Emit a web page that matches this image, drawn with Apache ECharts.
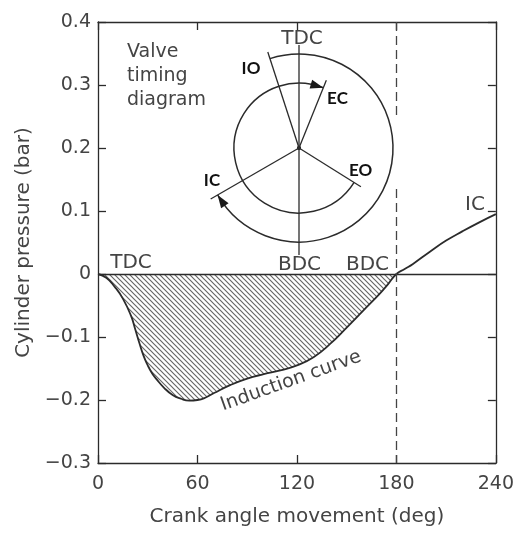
<!DOCTYPE html>
<html>
<head>
<meta charset="utf-8">
<script src="https://cdn.jsdelivr.net/npm/echarts@6/dist/echarts.min.js"></script>
<style>
  html, body { margin: 0; padding: 0; background: #fff; }
  #chart { width: 517px; height: 533px; }
</style>
</head>
<body>
<div id="chart"></div>
<script>
// Induction curve: cylinder pressure (bar) against crank angle movement (deg)
const crankAngle = [0, 5, 10, 15, 20, 22.5, 25, 27.5, 30, 32.5, 35, 40, 45, 50, 55, 60, 65, 70,
  80, 90, 100, 110, 120, 130, 140, 150, 160, 170, 175, 180,
  185, 190, 200, 210, 220, 230, 240];
const cylinderPressure = [0, -0.006, -0.020, -0.039, -0.067, -0.088, -0.110, -0.130, -0.145, -0.157, -0.166, -0.181, -0.192, -0.198, -0.201, -0.200, -0.196, -0.189,
  -0.176, -0.166, -0.159, -0.153, -0.145, -0.132, -0.111, -0.085, -0.058, -0.031, -0.016, 0,
  0.008, 0.016, 0.035, 0.053, 0.068, 0.082, 0.095];

// Axis ranges and tick steps
const xRange = [0, 240], xStep = 60;
const yRange = [-0.3, 0.4], yStep = 0.1;

// Induction stroke ends at BDC (hatched region), dashed marker at BDC
const inductionEnd = 180;
const bdcMarkerBreak = [0.245, 0.135];   // the dashed marker is interrupted between these pressures

// Valve timing diagram: event names and crank angles (deg, clockwise from TDC)
const valveEvents = ['IO', 'EC', 'EO', 'IC'];
const valveAngles = [342, 22, 122, 240];
const deadCentreAngles = [0, 180];        // TDC, BDC

const TEXT = '#444';
const INK = '#2b2b2b';
const FONT = 'DejaVu Sans';

const curve = crankAngle.map((x, i) => [x, cylinderPressure[i]]);
const inductionPart = curve.filter(p => p[0] <= inductionEnd);

function makeHatch(step, color, width) {
  const c = document.createElement('canvas');
  c.width = step; c.height = step;
  const g = c.getContext('2d');
  g.strokeStyle = color; g.lineWidth = width;
  g.beginPath();
  g.moveTo(-1, -1); g.lineTo(step + 1, step + 1);
  g.moveTo(-1, step - 1); g.lineTo(1, step + 1);
  g.moveTo(step - 1, -1); g.lineTo(step + 1, 1);
  g.stroke();
  return c;
}

const fmtY = v => {
  if (Math.abs(v) < 1e-9) return '0';
  return (v < 0 ? '\u2212' : '') + Math.abs(v).toFixed(1);
};

const frameLine = { onZero: false, lineStyle: { color: INK, width: 1.3 } };
const innerTick = { inside: true, length: 8, lineStyle: { color: INK, width: 1.3 } };

// Inset ring radii / spoke lengths (polar radius units = px, polar radius 100)
const idx = n => valveAngles[valveEvents.indexOf(n)];
const rings = [
  [94, idx('IO'), idx('IC')],   // intake valve open period
  [65, idx('EO'), idx('EC')]    // exhaust valve open period
];
const spokes = [
  [101, idx('IO')], [73, idx('EC')], [73, idx('EO')], [102, idx('IC')],
  [103, deadCentreAngles[0]], [107, deadCentreAngles[1]]
];

const chart = echarts.init(document.getElementById('chart'), null, { renderer: 'canvas' });

const txt = (text, x, y, extra) => ({
  type: 'text', x, y, z: 100,
  style: Object.assign({
    text, fill: TEXT, fontFamily: FONT, fontSize: 20,
    align: 'center', verticalAlign: 'middle',
    textAlign: 'center', textVerticalAlign: 'middle'
  }, extra || {})
});
const bold = (text, x, y) => txt(text, x, y, { fontFamily: 'Lato', fontWeight: 'bold', fontSize: 17, fill: '#111' });

const smoothing = { smooth: 0.5 };

chart.setOption({
  animation: false,
  backgroundColor: '#fff',
  grid: { left: 98, right: 20, top: 22, bottom: 70 },
  polar: { center: [299, 148], radius: 100 },
  angleAxis: { type: 'value', min: 0, max: 360, startAngle: 90, clockwise: true, show: false },
  radiusAxis: { type: 'value', min: 0, max: 100, show: false },
  xAxis: [
    {
      type: 'value', min: xRange[0], max: xRange[1], interval: xStep, position: 'bottom',
      axisLine: frameLine, axisTick: innerTick, splitLine: { show: false },
      axisLabel: { color: TEXT, fontSize: 19, fontFamily: FONT, margin: 12 },
      name: 'Crank angle movement (deg)', nameLocation: 'middle', nameGap: 44,
      nameTextStyle: { color: TEXT, fontSize: 20, fontFamily: FONT }
    },
    {
      type: 'value', min: xRange[0], max: xRange[1], interval: xStep, position: 'top',
      axisLine: frameLine, axisTick: innerTick, splitLine: { show: false },
      axisLabel: { show: false }
    }
  ],
  yAxis: [
    {
      type: 'value', min: yRange[0], max: yRange[1], interval: yStep, position: 'left',
      axisLine: frameLine, axisTick: innerTick, splitLine: { show: false },
      axisLabel: { color: TEXT, fontSize: 19, fontFamily: FONT, margin: 7, formatter: fmtY },
      name: 'Cylinder pressure (bar)', nameLocation: 'middle', nameGap: 62, nameRotate: 90,
      nameTextStyle: { color: TEXT, fontSize: 20, fontFamily: FONT }
    },
    {
      type: 'value', min: yRange[0], max: yRange[1], interval: yStep, position: 'right',
      axisLine: frameLine, axisTick: innerTick, splitLine: { show: false },
      axisLabel: { show: false }
    }
  ],
  series: [
    Object.assign({
      // hatched induction region between the curve and zero pressure
      type: 'line', data: inductionPart, symbol: 'none',
      lineStyle: { width: 0, opacity: 0 },
      areaStyle: { color: { image: makeHatch(5, '#666', 1.15), repeat: 'repeat' }, opacity: 1 },
      z: 1, silent: true
    }, smoothing),
    Object.assign({
      type: 'line', data: curve, symbol: 'none',
      lineStyle: { color: INK, width: 1.8 }, z: 3, silent: true,
      markLine: {
        silent: true, symbol: ['none', 'none'], label: { show: false },
        lineStyle: { color: INK, width: 1.3, type: 'solid' },
        data: [
          { yAxis: 0 },
          [{ coord: [inductionEnd, yRange[1]], lineStyle: { type: [9, 5], color: '#444', width: 1.3 } },
           { coord: [inductionEnd, bdcMarkerBreak[0]] }],
          [{ coord: [inductionEnd, bdcMarkerBreak[1]], lineStyle: { type: [9, 5], color: '#444', width: 1.3 } },
           { coord: [inductionEnd, yRange[0]] }]
        ]
      }
    }, smoothing),
    {
      // valve-open arcs with arrowheads at the closing event
      type: 'custom', coordinateSystem: 'polar', silent: true, z: 4,
      data: rings,
      renderItem: (params, api) => {
        const r = api.value(0), a0 = api.value(1), a1 = api.value(2);
        const c = api.coord([0, 0]);
        const p0 = api.coord([r, a0]);
        const p1 = api.coord([r, a1]);
        const rad = Math.hypot(p0[0] - c[0], p0[1] - c[1]);
        const s = Math.atan2(p0[1] - c[1], p0[0] - c[0]);
        const e = Math.atan2(p1[1] - c[1], p1[0] - c[0]);
        const L = 13, W = 4.5;
        const back = api.coord([r, a1 - (L / rad) * 180 / Math.PI]);
        const dx = p1[0] - back[0], dy = p1[1] - back[1];
        const d = Math.hypot(dx, dy);
        const nx = -dy / d, ny = dx / d;
        return {
          type: 'group',
          children: [
            { type: 'arc', shape: { cx: c[0], cy: c[1], r: rad, startAngle: s, endAngle: e, clockwise: true },
              style: { stroke: INK, lineWidth: 1.5, fill: null } },
            { type: 'polygon', shape: { points: [p1, [back[0] + nx * W, back[1] + ny * W], [back[0] - nx * W, back[1] - ny * W]] },
              style: { fill: '#1a1a1a' } }
          ]
        };
      }
    },
    {
      // spokes for valve events and the TDC-BDC line
      type: 'custom', coordinateSystem: 'polar', silent: true, z: 4,
      data: spokes,
      renderItem: (params, api) => {
        const c = api.coord([0, 0]);
        const p = api.coord([api.value(0), api.value(1)]);
        return {
          type: 'group',
          children: [
            { type: 'line', shape: { x1: c[0], y1: c[1], x2: p[0], y2: p[1] }, style: { stroke: INK, lineWidth: 1.3 } },
            { type: 'circle', shape: { cx: c[0], cy: c[1], r: 1.8 }, style: { fill: INK } }
          ]
        };
      }
    }
  ],
  graphic: [
    txt('Valve\ntiming\ndiagram', 127, 40, { align: 'left', textAlign: 'left', verticalAlign: 'top', textVerticalAlign: 'top', fontSize: 19, lineHeight: 24 }),
    txt('TDC', 302, 39),
    txt('TDC', 131, 263),
    txt('BDC', 299.5, 265),
    txt('BDC', 367.5, 265),
    txt('IC', 475, 205),
    Object.assign(txt('Induction curve', 291, 381, { fontSize: 19 }), { rotation: 0.344 }),
    bold('IO', 251, 69),
    bold('EC', 337.5, 99),
    bold('EO', 360.5, 171),
    bold('IC', 212, 181)
  ]
});
</script>
</body>
</html>
